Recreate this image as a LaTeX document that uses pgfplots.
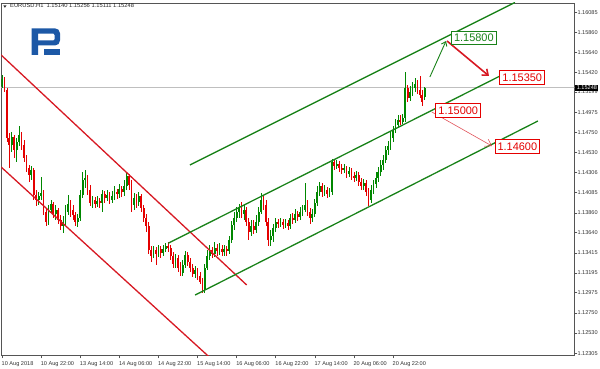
\documentclass[border=0pt]{standalone}
\usepackage{fontspec}
\setmainfont{Liberation Sans}
\usepackage{pgfplots}
\pgfplotsset{compat=1.18}
\usepackage{pgfplotstable}
\usetikzlibrary{arrows.meta}
\definecolor{cgreen}{RGB}{0,135,0}
\definecolor{cred}{RGB}{228,0,0}
\definecolor{lgreen}{RGB}{25,130,25}
\definecolor{lred}{RGB}{215,25,35}
\definecolor{logoblue}{RGB}{28,88,166}
\definecolor{axgray}{RGB}{85,85,85}

\pgfplotstableread{
i o h l c
0 1.15266 1.15388 1.15244 1.15344
4 1.14612 1.14756 1.14535 1.14701
6 1.14557 1.14690 1.14424 1.14645
7 1.14645 1.14823 1.14601 1.14723
12 1.14280 1.14379 1.14224 1.14335
15 1.14003 1.14091 1.13947 1.14047
16 1.14047 1.14257 1.14003 1.14080
19 1.13759 1.13947 1.13726 1.13892
20 1.13892 1.14003 1.13859 1.13958
22 1.13847 1.13947 1.13781 1.13892
25 1.13714 1.13825 1.13637 1.13759
26 1.13759 1.13947 1.13714 1.13870
27 1.13870 1.14058 1.13836 1.13958
31 1.13759 1.13847 1.13703 1.13803
32 1.13803 1.14113 1.13770 1.14058
33 1.14058 1.14313 1.14025 1.14224
34 1.14224 1.14335 1.14136 1.14246
37 1.13969 1.14047 1.13914 1.14003
39 1.13958 1.14047 1.13925 1.13991
41 1.13969 1.14113 1.13870 1.14069
43 1.14025 1.14113 1.13991 1.14058
45 1.14003 1.14102 1.13969 1.14047
46 1.14047 1.14158 1.14003 1.14091
48 1.14069 1.14180 1.14025 1.14124
50 1.14091 1.14224 1.14047 1.14158
51 1.14158 1.14302 1.14113 1.14269
54 1.13947 1.14080 1.13892 1.14025
56 1.13980 1.14091 1.13936 1.14047
62 1.13382 1.13493 1.13360 1.13448
64 1.13404 1.13504 1.13371 1.13460
66 1.13415 1.13504 1.13382 1.13460
67 1.13460 1.13526 1.13426 1.13493
71 1.13293 1.13404 1.13249 1.13360
74 1.13194 1.13338 1.13160 1.13282
75 1.13282 1.13437 1.13249 1.13393
79 1.13182 1.13271 1.13138 1.13227
83 1.13005 1.13293 1.12972 1.13249
84 1.13249 1.13448 1.13227 1.13382
85 1.13382 1.13504 1.13338 1.13448
87 1.13404 1.13537 1.13371 1.13471
89 1.13437 1.13526 1.13393 1.13460
91 1.13426 1.13504 1.13382 1.13460
93 1.13437 1.13604 1.13404 1.13559
94 1.13559 1.13770 1.13526 1.13726
95 1.13726 1.13870 1.13670 1.13803
96 1.13803 1.13925 1.13759 1.13870
97 1.13870 1.13958 1.13803 1.13914
99 1.13847 1.13947 1.13781 1.13892
102 1.13648 1.13781 1.13604 1.13714
104 1.13670 1.13836 1.13637 1.13759
105 1.13759 1.13925 1.13714 1.13870
106 1.13870 1.14080 1.13847 1.14003
110 1.13559 1.13670 1.13493 1.13604
111 1.13604 1.13737 1.13537 1.13692
112 1.13692 1.13803 1.13648 1.13759
114 1.13737 1.13803 1.13703 1.13759
116 1.13726 1.13792 1.13692 1.13748
118 1.13714 1.13847 1.13681 1.13803
120 1.13781 1.13903 1.13748 1.13847
122 1.13814 1.13925 1.13781 1.13870
123 1.13870 1.13947 1.13825 1.13892
124 1.13892 1.14191 1.13870 1.13947
127 1.13803 1.13903 1.13759 1.13847
128 1.13847 1.14014 1.13814 1.13969
129 1.13969 1.14158 1.13936 1.14091
130 1.14091 1.14202 1.14047 1.14158
132 1.14091 1.14169 1.14047 1.14113
134 1.14069 1.14136 1.14036 1.14091
135 1.14091 1.14457 1.14058 1.14424
137 1.14379 1.14446 1.14346 1.14402
140 1.14335 1.14402 1.14302 1.14357
142 1.14291 1.14368 1.14257 1.14324
145 1.14246 1.14324 1.14213 1.14280
148 1.14158 1.14235 1.14113 1.14191
151 1.14003 1.14169 1.13969 1.14113
152 1.14113 1.14224 1.14069 1.14180
153 1.14180 1.14313 1.14136 1.14246
154 1.14246 1.14368 1.14202 1.14313
155 1.14313 1.14446 1.14269 1.14390
156 1.14390 1.14501 1.14335 1.14446
157 1.14446 1.14601 1.14413 1.14557
158 1.14557 1.14657 1.14501 1.14601
159 1.14601 1.14756 1.14557 1.14690
160 1.14690 1.14823 1.14645 1.14778
161 1.14778 1.14900 1.14745 1.14834
162 1.14834 1.14945 1.14801 1.14889
164 1.14867 1.14956 1.14845 1.14911
165 1.14911 1.15421 1.14867 1.15244
167 1.15133 1.15266 1.15100 1.15200
168 1.15200 1.15311 1.15155 1.15244
169 1.15244 1.15355 1.15200 1.15288
173 1.15140 1.15256 1.15111 1.15248
}\greentab

\pgfplotstableread{
i o h l c
1 1.15344 1.15366 1.15200 1.15222
2 1.15222 1.15244 1.14645 1.14690
3 1.14690 1.14745 1.14357 1.14612
5 1.14701 1.14723 1.14468 1.14557
8 1.14723 1.14756 1.14557 1.14612
9 1.14612 1.14668 1.14424 1.14468
10 1.14468 1.14501 1.14313 1.14357
11 1.14357 1.14390 1.14202 1.14280
13 1.14335 1.14357 1.14003 1.14058
14 1.14058 1.14113 1.13936 1.14003
17 1.14080 1.14113 1.13836 1.13870
18 1.13870 1.13914 1.13714 1.13759
21 1.13958 1.13980 1.13803 1.13847
23 1.13892 1.13914 1.13737 1.13781
24 1.13781 1.13836 1.13670 1.13714
28 1.13958 1.14003 1.13814 1.13892
29 1.13892 1.13947 1.13781 1.13836
30 1.13836 1.13870 1.13714 1.13759
35 1.14246 1.14280 1.14058 1.14113
36 1.14113 1.14169 1.13936 1.13969
38 1.14003 1.14036 1.13914 1.13958
40 1.13991 1.14025 1.13914 1.13969
42 1.14069 1.14102 1.13969 1.14025
44 1.14058 1.14091 1.13958 1.14003
47 1.14091 1.14124 1.14014 1.14069
49 1.14124 1.14158 1.14036 1.14091
52 1.14269 1.14291 1.14113 1.14169
53 1.14169 1.14224 1.13870 1.13947
55 1.14025 1.14069 1.13914 1.13980
57 1.14047 1.14069 1.13870 1.13914
58 1.13914 1.13947 1.13759 1.13803
59 1.13803 1.13847 1.13648 1.13714
60 1.13714 1.13759 1.13404 1.13448
61 1.13448 1.13493 1.13315 1.13382
63 1.13448 1.13482 1.13282 1.13404
65 1.13460 1.13493 1.13360 1.13415
68 1.13493 1.13537 1.13426 1.13471
69 1.13471 1.13504 1.13338 1.13382
70 1.13382 1.13426 1.13249 1.13293
72 1.13360 1.13393 1.13205 1.13249
73 1.13249 1.13315 1.13160 1.13194
76 1.13393 1.13426 1.13271 1.13315
77 1.13315 1.13360 1.13205 1.13249
78 1.13249 1.13293 1.13149 1.13182
80 1.13227 1.13249 1.13116 1.13160
81 1.13160 1.13205 1.13072 1.13094
82 1.13094 1.13138 1.12972 1.13005
86 1.13448 1.13482 1.13360 1.13404
88 1.13471 1.13515 1.13382 1.13437
90 1.13460 1.13504 1.13382 1.13426
92 1.13460 1.13493 1.13382 1.13437
98 1.13914 1.13980 1.13803 1.13847
100 1.13892 1.13925 1.13714 1.13759
101 1.13759 1.13803 1.13559 1.13648
103 1.13714 1.13781 1.13626 1.13670
107 1.14003 1.14047 1.13892 1.13947
108 1.13947 1.14003 1.13714 1.13759
109 1.13759 1.13803 1.13493 1.13559
113 1.13759 1.13792 1.13692 1.13737
115 1.13759 1.13792 1.13681 1.13726
117 1.13748 1.13781 1.13670 1.13714
119 1.13803 1.13859 1.13737 1.13781
121 1.13847 1.13881 1.13770 1.13814
125 1.13947 1.14003 1.13825 1.13870
126 1.13870 1.13914 1.13737 1.13803
131 1.14158 1.14191 1.14036 1.14091
133 1.14113 1.14147 1.14025 1.14069
136 1.14424 1.14457 1.14335 1.14379
138 1.14402 1.14435 1.14313 1.14357
139 1.14357 1.14402 1.14291 1.14335
141 1.14357 1.14379 1.14246 1.14291
143 1.14324 1.14357 1.14224 1.14269
144 1.14269 1.14313 1.14202 1.14246
146 1.14280 1.14313 1.14158 1.14202
147 1.14202 1.14246 1.14113 1.14158
149 1.14191 1.14224 1.14047 1.14091
150 1.14091 1.14136 1.13936 1.14003
163 1.14889 1.14945 1.14834 1.14867
166 1.15244 1.15277 1.15089 1.15133
170 1.15288 1.15333 1.15178 1.15222
171 1.15222 1.15377 1.15133 1.15166
172 1.15166 1.15222 1.15045 1.15089
}\redtab

\tikzset{pbox/.style={draw=#1, text=#1, fill=white, line width=0.8bp, inner xsep=2.6bp, inner ysep=2.9bp, font=\fontsize{11}{12}\selectfont}}

\begin{document}
\begin{tikzpicture}
\begin{axis}[
  at={(1.3bp,13.5bp)}, anchor=south west,
  scale only axis, width=573bp, height=352.5bp,
  xmin=-0.3, xmax=234.2, ymin=1.12279, ymax=1.16186,
  axis line style={axgray, line width=0.8bp},
  xtick={0,16,32,48,64,80,96,112,128,144,160},
  xticklabels={10 Aug 2018, 10 Aug 22:00, 13 Aug 14:00, 14 Aug 06:00, 14 Aug 22:00, 15 Aug 14:00, 16 Aug 06:00, 16 Aug 22:00, 17 Aug 14:00, 20 Aug 06:00, 20 Aug 22:00},
  ytick={1.12305,1.12530,1.12750,1.12975,1.13195,1.13415,1.13640,1.13860,1.14085,1.14306,1.14530,1.14750,1.14975,1.15199,1.15420,1.15640,1.15860,1.16085},
  yticklabels={1.12305,1.12530,1.12750,1.12975,1.13195,1.13415,1.13640,1.13860,1.14085,1.14306,1.14530,1.14750,1.14975,1.15199,1.15420,1.15640,1.15860,1.16085},
  xtick pos=bottom, ytick pos=right, yticklabel pos=right,
  tick align=outside, major tick length=3bp,
  tick style={axgray, line width=0.6bp},
  ticklabel style={font=\fontsize{5.6}{6}\selectfont, text=black!80, inner sep=0pt},
  xticklabel style={anchor=north west, yshift=-2.5bp, xshift=-0.5bp},
  yticklabel style={anchor=west},
  clip=true,
]
% current price line
\addplot[black!25, line width=0.5bp, forget plot] coordinates {(-1,1.15248) (240,1.15248)};
% wicks
\addplot[draw=none, mark=none, forget plot, error bars/.cd, y dir=both, y explicit, error mark=none, error bar style={draw=cgreen, line width=0.75bp, solid}]
  table[x=i, y expr={(\thisrow{h}+\thisrow{l})/2}, y error expr={(\thisrow{h}-\thisrow{l})/2}] {\greentab};
\addplot[draw=none, mark=none, forget plot, error bars/.cd, y dir=both, y explicit, error mark=none, error bar style={draw=cred, line width=0.75bp, solid}]
  table[x=i, y expr={(\thisrow{h}+\thisrow{l})/2}, y error expr={(\thisrow{h}-\thisrow{l})/2}] {\redtab};
% bodies
\addplot[draw=none, mark=none, forget plot, error bars/.cd, y dir=both, y explicit, error mark=none, error bar style={draw=cgreen, line width=1.8bp, solid}]
  table[x=i, y expr={(\thisrow{o}+\thisrow{c})/2}, y error expr={(\thisrow{c}-\thisrow{o})/2}] {\greentab};
\addplot[draw=none, mark=none, forget plot, error bars/.cd, y dir=both, y explicit, error mark=none, error bar style={draw=cred, line width=1.8bp, solid}]
  table[x=i, y expr={(\thisrow{o}+\thisrow{c})/2}, y error expr={(\thisrow{o}-\thisrow{c})/2}] {\redtab};
% channels
\addplot[lred, line width=1.3bp] coordinates {(-0.82,1.15621) (100.1,1.13061)};
\addplot[lred, line width=1.3bp] coordinates {(-0.82,1.14379) (87.2,1.12203)};
\addplot[lgreen, line width=1.3bp] coordinates {(76.9,1.14391) (209.9,1.16192)};
\addplot[lgreen, line width=1.3bp] coordinates {(68.0,1.13523) (203.8,1.15377)};
\addplot[lgreen, line width=1.3bp] coordinates {(79.0,1.12949) (219.3,1.14878)};
% arrows
\draw[lgreen, line width=0.9bp, -{Straight Barb[length=4bp, width=6bp]}] (axis cs:175.1,1.15366) -- (axis cs:181.7,1.15765);
\draw[lred, line width=1.6bp, -{Straight Barb[length=5bp, width=8bp]}] (axis cs:182.1,1.15765) -- (axis cs:199.3,1.15377);
\draw[lred!75, line width=0.6bp, -{Straight Barb[length=6bp, width=8bp]}] (axis cs:175.9,1.14978) -- (axis cs:200.5,1.14601);
% labels
\node[pbox=lgreen] at (axis cs:193.1,1.15798) {1.15800};
\node[pbox=cred] at (axis cs:212.9,1.15360) {1.15350};
\node[pbox=cred] at (axis cs:186.7,1.14997) {1.15000};
\node[pbox=cred] at (axis cs:210.9,1.14598) {1.14600};
\coordinate (pricebox) at (axis cs:234.2,1.15248);
\end{axis}
\node[anchor=west, fill=black, text=white, inner xsep=1.5bp, inner ysep=1bp, font=\fontsize{5.6}{6}\selectfont, xshift=0.8bp] at (pricebox) {1.15248};
% title
\fill[black!80] (3.3bp,363.6bp) -- (6.5bp,363.6bp) -- (4.9bp,361.2bp) -- cycle;
\node[anchor=base west, inner sep=0pt, font=\fontsize{5.8}{6}\selectfont, text=black!85] at (10bp,361.6bp) {EURUSD.H1\hspace{3bp}1.15140 1.15256 1.15111 1.15248};
% logo
\begin{scope}[x=1bp, y=-1bp, yshift=369bp]
\fill[logoblue, even odd rule] (31.7,55) -- (31.7,28.3) [rounded corners=5bp] -- (60,28.3) -- (60,45.5) [sharp corners] -- (38,45.5) -- (38,55) -- cycle
  (38,33.6) -- (53.5,33.6) -- (54.6,35) -- (54.6,39.2) -- (53.5,40.5) -- (38,40.5) -- cycle;
\fill[logoblue] (43.5,49.3) rectangle (60,55);
\end{scope}
\pgfresetboundingbox
\path (0,0) rectangle (600bp,369bp);
\end{tikzpicture}
\end{document}
